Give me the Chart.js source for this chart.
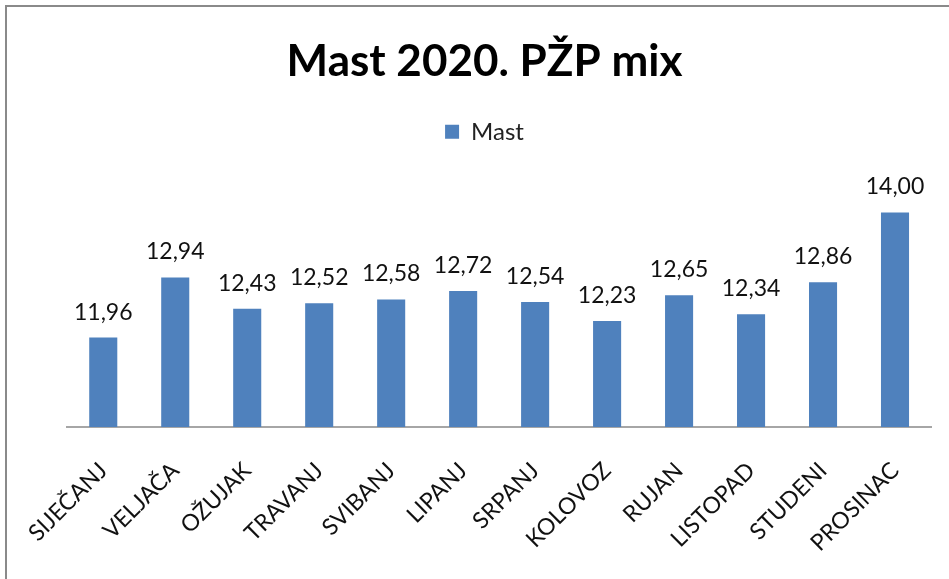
<!DOCTYPE html>
<html>
<head>
<meta charset="utf-8">
<script src="https://cdn.jsdelivr.net/npm/chart.js@4"></script>
<style>
  html, body { margin: 0; padding: 0; background: #fff; overflow: hidden; }
  #frame {
    position: absolute; left: 5px; top: 5px; width: 1000px; height: 700px;
    border: 2px solid #8a8a8a; box-sizing: border-box;
  }
  #wrap { position: absolute; left: 0; top: 0; width: 949px; height: 579px; }
</style>
</head>
<body>
<div id="frame"></div>
<div id="wrap"><canvas id="myChart"></canvas></div>
<script>
// months and monthly fat values (Mast, %)
const months = ['SIJEČANJ', 'VELJAČA', 'OŽUJAK', 'TRAVANJ', 'SVIBANJ', 'LIPANJ',
  'SRPANJ', 'KOLOVOZ', 'RUJAN', 'LISTOPAD', 'STUDENI', 'PROSINAC'];
const mast = [11.96, 12.94, 12.43, 12.52, 12.58, 12.72, 12.54, 12.23, 12.65, 12.34, 12.86, 14.00];

const font = "Lato, 'Open Sans', sans-serif";

// value labels above each bar, comma as decimal separator
const barValues = {
  id: 'barValues',
  afterDatasetsDraw(chart) {
    const ctx = chart.ctx;
    const meta = chart.getDatasetMeta(0);
    ctx.save();
    ctx.font = '23px ' + font;
    ctx.fillStyle = '#111';
    ctx.textAlign = 'center';
    ctx.textBaseline = 'alphabetic';
    meta.data.forEach((bar, i) => {
      const txt = mast[i].toFixed(2).replace('.', ',');
      ctx.fillText(txt, bar.x, bar.y - 18);
    });
    ctx.restore();
  }
};

// extra room between the legend and the bars
const legendGap = {
  id: 'legendGap',
  beforeInit(chart) {
    const fit = chart.legend.fit;
    chart.legend.fit = function () {
      fit.call(this);
      this.height += 28;
    };
  }
};

const config = {
  type: 'bar',
  data: {
    labels: months,
    datasets: [{
      label: 'Mast',
      data: mast,
      backgroundColor: '#4F81BD',
      borderWidth: 0,
      categoryPercentage: 0.78,
      barPercentage: 0.5
    }]
  },
  options: {
    responsive: true,
    maintainAspectRatio: false,
    animation: false,
    layout: { padding: { left: 38, right: 18, top: 35, bottom: 0 } },
    plugins: {
      title: {
        display: true,
        text: 'Mast 2020. PŽP mix',
        color: '#000',
        font: { family: font, size: 44, weight: 'bold' },
        padding: { top: 0, bottom: 22 }
      },
      legend: {
        display: true,
        labels: {
          color: '#222',
          font: { family: font, size: 24 },
          boxWidth: 14,
          boxHeight: 14,
          padding: 10
        }
      },
      tooltip: { enabled: false }
    },
    scales: {
      x: {
        grid: { display: false, drawTicks: false },
        border: { display: true, color: '#a6a6a6', width: 2 },
        ticks: {
          color: '#111',
          font: { family: font, size: 23 },
          minRotation: 45,
          maxRotation: 45,
          padding: 30
        },
        afterFit(scale) { scale.height = 152; }
      },
      y: {
        min: 10.5,
        max: 14.5,
        grid: { display: false, drawTicks: false },
        border: { display: false },
        ticks: { display: false },
        afterFit(scale) { scale.width = 27; }
      }
    }
  },
  plugins: [barValues, legendGap]
};

const myChart = new Chart(document.getElementById('myChart'), config);
</script>
</body>
</html>
